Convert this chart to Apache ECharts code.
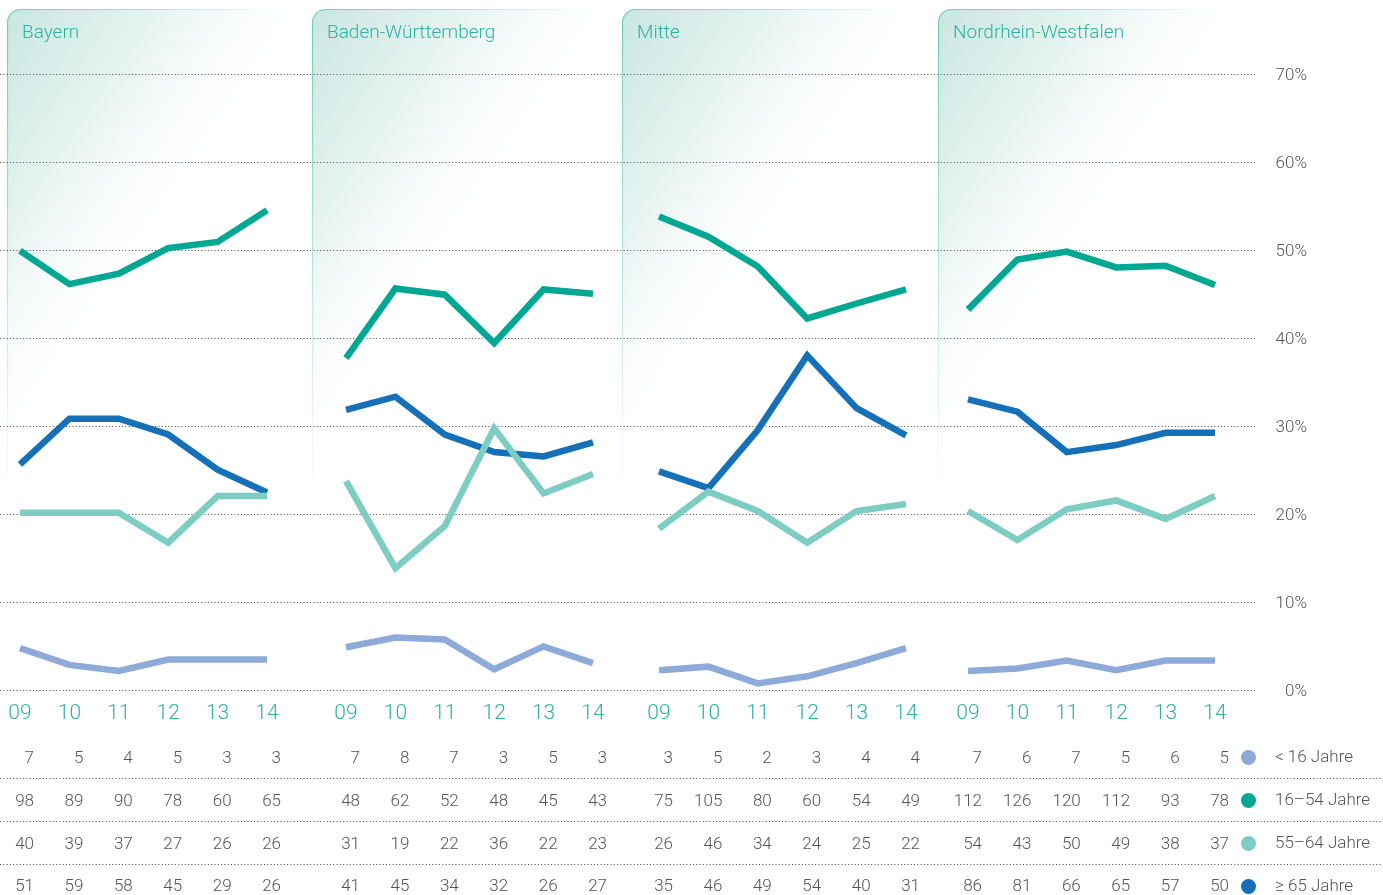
<!DOCTYPE html>
<html>
<head>
<meta charset="utf-8">
<title>Altersgruppen nach Region</title>
<script src="https://cdn.jsdelivr.net/npm/echarts@6/dist/echarts.min.js"></script>
<style>
  html, body { margin: 0; padding: 0; background: #fff; }
  #chart { width: 1383px; height: 895px; }
</style>
</head>
<body>
<div id="chart"></div>
<script>
  var years = ['09', '10', '11', '12', '13', '14']
  var regions = ['Bayern', 'Baden-Württemberg', 'Mitte', 'Nordrhein-Westfalen']
  var groups = ['< 16 Jahre', '16–54 Jahre', '55–64 Jahre', '≥ 65 Jahre']
  var groupColors = ['#8eaad8', '#00a894', '#7dcdc2', '#1570b8']

  // Anteile in %, Reihenfolge wie groups
  var pctBayern = [
    [4.7, 2.8, 2.1, 3.4, 3.4, 3.4],
    [49.9, 46.1, 47.3, 50.2, 50.9, 54.5],
    [20.1, 20.1, 20.1, 16.7, 22.0, 22.0],
    [25.6, 30.8, 30.8, 29.0, 25.0, 22.4]
  ]
  var pctBaden = [
    [4.8, 5.9, 5.7, 2.3, 4.9, 3.0],
    [37.7, 45.6, 44.9, 39.4, 45.5, 45.0],
    [23.7, 13.8, 18.6, 29.7, 22.3, 24.5],
    [31.8, 33.3, 29.0, 27.0, 26.5, 28.1]
  ]
  var pctMitte = [
    [2.2, 2.6, 0.7, 1.5, 3.0, 4.7],
    [53.8, 51.5, 48.1, 42.2, 43.9, 45.5],
    [18.3, 22.5, 20.3, 16.7, 20.3, 21.1],
    [24.8, 22.9, 29.5, 38.0, 32.0, 28.9]
  ]
  var pctNrw = [
    [2.1, 2.4, 3.3, 2.2, 3.3, 3.3],
    [43.2, 48.9, 49.8, 48.0, 48.2, 46.0],
    [20.3, 17.0, 20.5, 21.5, 19.4, 22.0],
    [33.0, 31.6, 27.0, 27.8, 29.2, 29.2]
  ]

  // Fallzahlen (Tabelle unten)
  var countBayern = [
    [7, 5, 4, 5, 3, 3],
    [98, 89, 90, 78, 60, 65],
    [40, 39, 37, 27, 26, 26],
    [51, 59, 58, 45, 29, 26]
  ]
  var countBaden = [
    [7, 8, 7, 3, 5, 3],
    [48, 62, 52, 48, 45, 43],
    [31, 19, 22, 36, 22, 23],
    [41, 45, 34, 32, 26, 27]
  ]
  var countMitte = [
    [3, 5, 2, 3, 4, 4],
    [75, 105, 80, 60, 54, 49],
    [26, 46, 34, 24, 25, 22],
    [35, 46, 49, 54, 40, 31]
  ]
  var countNrw = [
    [7, 6, 7, 5, 6, 5],
    [112, 126, 120, 112, 93, 78],
    [54, 43, 50, 49, 38, 37],
    [86, 81, 66, 65, 57, 50]
  ]

  var pcts = [pctBayern, pctBaden, pctMitte, pctNrw]
  var counts = [countBayern, countBaden, countMitte, countNrw]

  // Layout
  var font = 'Roboto'
  var teal = '#2db3a0'
  var gray = '#555'
  var plotTop = 74
  var plotBottom = 205
  var panelLeft = [20, 346, 659, 968]
  var panelWidth = 247
  var boxLeft = [7, 312, 622, 938]
  var boxTop = 9.5
  var boxW = 278
  var boxH = 490
  var boxR = 13
  var rowOffset = [69, 112, 155, 197]
  var rowLines = [778, 821, 864]
  var drawOrder = [3, 2, 1, 0]

  var grids = [{ left: 0, right: 126, top: plotTop, bottom: plotBottom }]
  var xAxes = [{ gridIndex: 0, type: 'category', data: [''], show: false }]
  var yAxes = [{
    gridIndex: 0,
    type: 'value',
    min: 0,
    max: 70,
    interval: 10,
    position: 'right',
    axisLine: { show: false },
    axisTick: { show: false },
    splitLine: { lineStyle: { color: '#444', width: 1, type: [1, 2.3] } },
    axisLabel: {
      formatter: '{p|{value}%}',
      align: 'right',
      margin: 50,
      rich: {
        p: { padding: [4, 0, 0, 0], fontSize: 17, fontFamily: font, fontWeight: 300, color: gray }
      }
    }
  }]
  var series = []
  var titles = []
  var graphics = []

  regions.forEach(function (name, i) {
    var g = i + 1
    grids.push({ left: panelLeft[i], width: panelWidth, top: plotTop, bottom: plotBottom })
    xAxes.push({
      gridIndex: g,
      type: 'category',
      data: years,
      boundaryGap: false,
      axisLine: { show: false },
      axisTick: { show: false },
      axisLabel: {
        interval: 0,
        margin: 24,
        verticalAlign: 'middle',
        fontSize: 21,
        fontFamily: font,
        fontWeight: 300,
        color: teal
      }
    })
    counts[i].forEach(function (row, r) {
      xAxes.push({
        gridIndex: g,
        type: 'category',
        data: years,
        boundaryGap: false,
        position: 'bottom',
        offset: rowOffset[r],
        axisLine: { show: false },
        axisTick: { show: false },
        axisLabel: {
          interval: 0,
          margin: 0,
          verticalAlign: 'middle',
          formatter: function (v, idx) { return '{n|' + row[idx] + '}' },
          rich: {
            n: { width: 28, align: 'right', fontSize: 17, fontFamily: font, fontWeight: 300, color: gray }
          }
        }
      })
    })
    yAxes.push({ gridIndex: g, type: 'value', min: 0, max: 70, show: false })

    drawOrder.forEach(function (k) {
      series.push({
        type: 'line',
        name: groups[k],
        xAxisIndex: i * 5 + 1,
        yAxisIndex: g,
        data: pcts[i][k],
        symbol: 'none',
        silent: true,
        lineStyle: { width: 6.5, color: groupColors[k], join: 'miter' },
        itemStyle: { color: groupColors[k] }
      })
    })

    titles.push({
      text: name,
      left: boxLeft[i] + 15,
      top: 24,
      padding: 0,
      textStyle: { color: teal, fontSize: 19, fontFamily: font, fontWeight: 300 }
    })

    var bx = boxLeft[i] + 0.5
    graphics.push({
      type: 'rect',
      z: -10,
      silent: true,
      shape: { x: bx, y: boxTop, width: boxW, height: boxH, r: [boxR, 0, 0, 0] },
      style: {
        fill: new echarts.graphic.LinearGradient(0, 0, 0.78, 0.3, [
          { offset: 0, color: 'rgba(135,200,187,0.45)' },
          { offset: 0.5, color: 'rgba(135,200,187,0.2)' },
          { offset: 1, color: 'rgba(255,255,255,0)' }
        ])
      }
    })
    graphics.push({
      type: 'line',
      z: -9,
      silent: true,
      shape: { x1: bx + boxR, y1: boxTop, x2: bx + boxW, y2: boxTop },
      style: {
        lineWidth: 1.2,
        stroke: new echarts.graphic.LinearGradient(0, 0, 1, 0, [
          { offset: 0, color: 'rgba(100,200,182,0.9)' },
          { offset: 1, color: 'rgba(100,200,182,0)' }
        ])
      }
    })
    graphics.push({
      type: 'line',
      z: -9,
      silent: true,
      shape: { x1: bx, y1: boxTop + boxR, x2: bx, y2: boxTop + boxH },
      style: {
        lineWidth: 1.2,
        stroke: new echarts.graphic.LinearGradient(0, 0, 0, 1, [
          { offset: 0, color: 'rgba(100,200,182,0.9)' },
          { offset: 1, color: 'rgba(100,200,182,0)' }
        ])
      }
    })
    graphics.push({
      type: 'arc',
      z: -9,
      silent: true,
      shape: { cx: bx + boxR, cy: boxTop + boxR, r: boxR, startAngle: Math.PI, endAngle: Math.PI * 1.5 },
      style: { stroke: 'rgba(100,200,182,0.9)', fill: null, lineWidth: 1.2 }
    })
  })

  rowLines.forEach(function (y) {
    graphics.push({
      type: 'line',
      silent: true,
      shape: { x1: 0, y1: y + 0.5, x2: 1383, y2: y + 0.5 },
      style: { stroke: '#444', lineWidth: 1, lineDash: [1, 2.3] }
    })
  })

  var myChart = echarts.init(document.getElementById('chart'), null, { renderer: 'canvas' })
  myChart.setOption({
    animation: false,
    title: titles,
    grid: grids,
    xAxis: xAxes,
    yAxis: yAxes,
    legend: {
      orient: 'vertical',
      left: 1241,
      top: 749,
      padding: 0,
      icon: 'circle',
      itemWidth: 15,
      itemHeight: 15,
      itemGap: 26,
      selectedMode: false,
      data: groups,
      itemStyle: { borderWidth: 0 },
      textStyle: { fontSize: 17, fontFamily: font, fontWeight: 300, color: gray, padding: [0, 0, 0, 14] }
    },
    graphic: graphics,
    series: series
  })
</script>
</body>
</html>
